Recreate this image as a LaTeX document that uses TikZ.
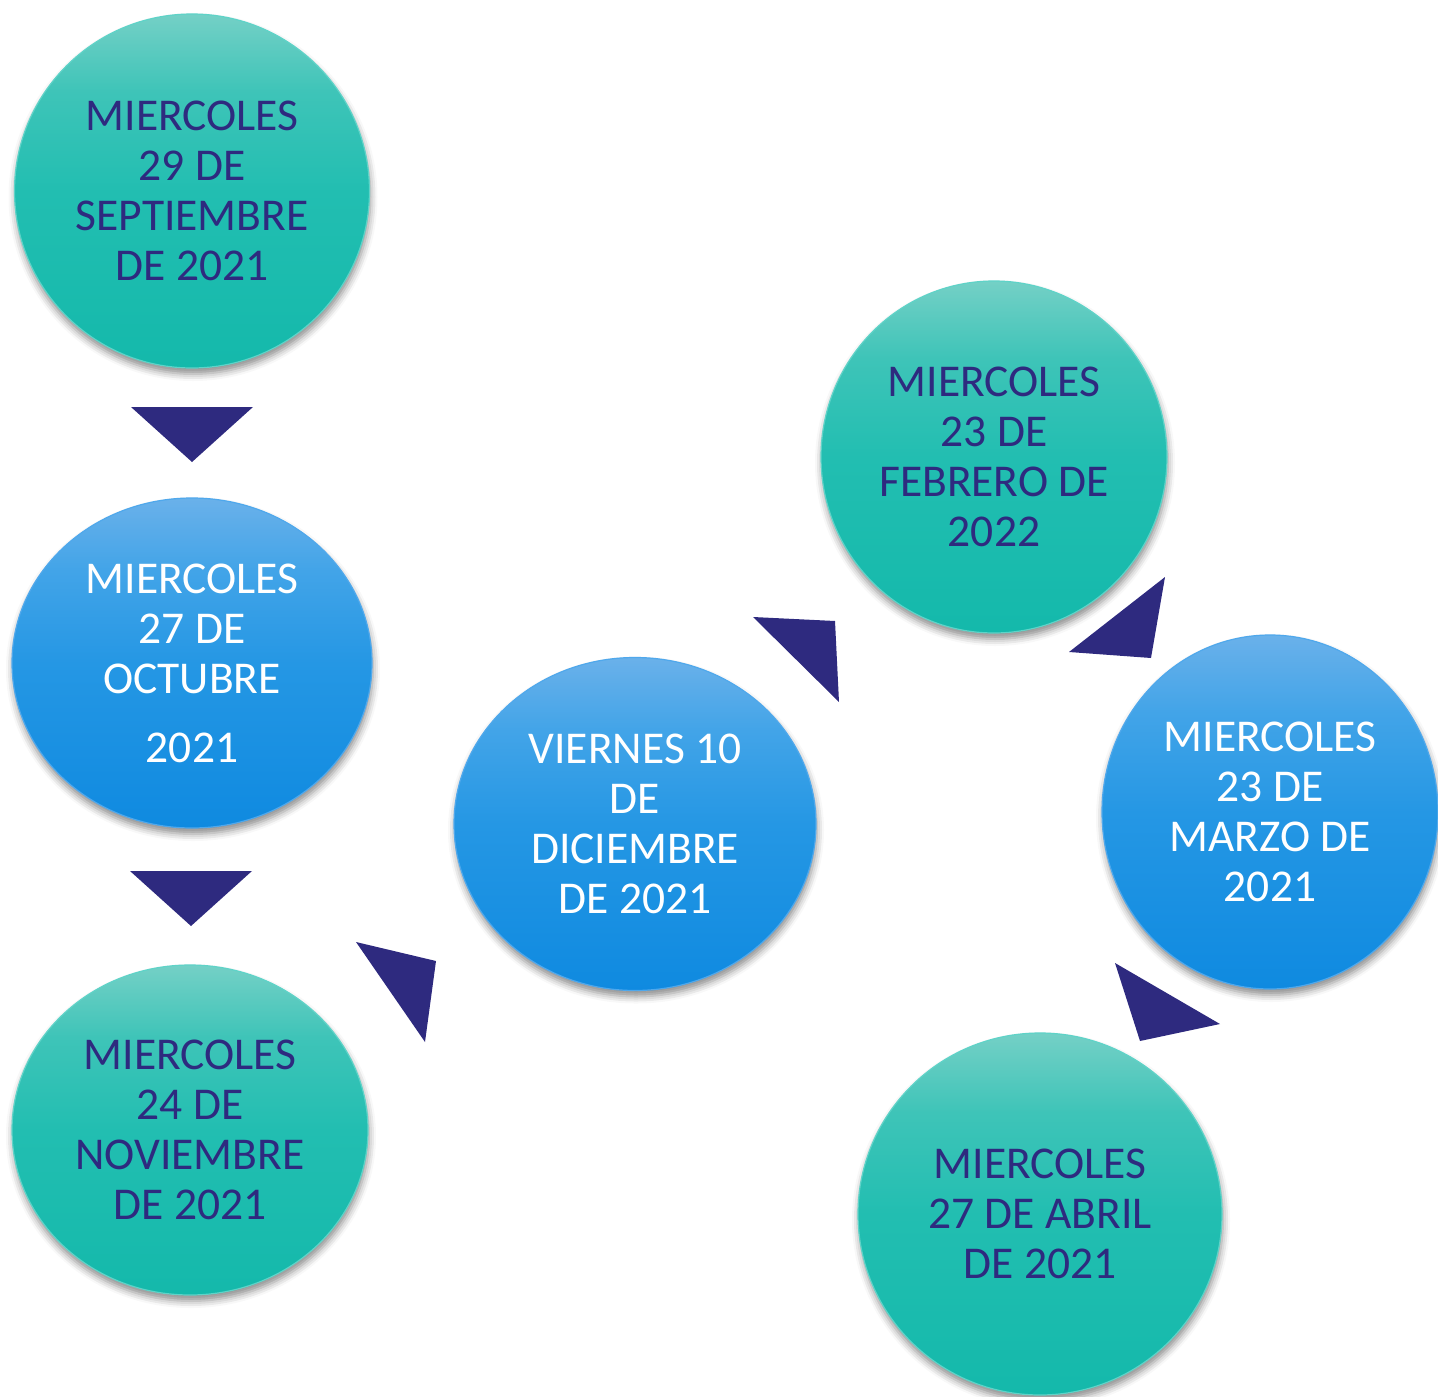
\documentclass[tikz,border=0pt]{standalone}
\usepackage{fontspec}
\setmainfont{Carlito}
\usetikzlibrary{shapes.geometric,shadows.blur}
\definecolor{navy}{HTML}{2E2A7F}
\definecolor{tealtop}{HTML}{74D0C6}
\definecolor{tealup}{HTML}{3EC4B8}
\definecolor{tealmid}{HTML}{22BEB1}
\definecolor{tealbot}{HTML}{14B9AB}
\definecolor{tealrim}{HTML}{5FD3C8}
\definecolor{bluetop}{HTML}{6AB1EA}
\definecolor{blueup}{HTML}{42A4E8}
\definecolor{bluemid}{HTML}{2597E4}
\definecolor{bluebot}{HTML}{0F8AE0}
\definecolor{bluerim}{HTML}{4FA8EC}
\pgfdeclareverticalshading{tealshade}{100bp}{color(0bp)=(tealbot); color(25bp)=(tealbot); color(50bp)=(tealmid); color(64bp)=(tealup); color(75bp)=(tealtop); color(100bp)=(tealtop)}
\pgfdeclareverticalshading{blueshade}{100bp}{color(0bp)=(bluebot); color(25bp)=(bluebot); color(50bp)=(bluemid); color(64bp)=(blueup); color(75bp)=(bluetop); color(100bp)=(bluetop)}
\tikzset{
  disc/.style={ellipse, inner sep=0pt, align=center,
    font=\fontsize{45.5}{50}\selectfont,
    blur shadow={shadow xshift=1pt, shadow yshift=-6pt, shadow blur radius=7pt, shadow opacity=45}},
  tealdisc/.style={disc, draw=tealrim, line width=1.2pt, text=navy, shading=tealshade},
  bluedisc/.style={disc, draw=bluerim, line width=1.2pt, text=white, shading=blueshade},
  tri/.style={fill=navy, draw=none}
}
\begin{document}
\begin{tikzpicture}[x=1pt,y=-1pt]
\useasboundingbox (0,0) rectangle (1438,1397);
% discs
\node[tealdisc, minimum width=355pt, minimum height=354pt] (sep) at (192,191)
  {MIERCOLES\\29 DE\\SEPTIEMBRE\\DE 2021};
\node[bluedisc, minimum width=360pt, minimum height=330pt] (oct) at (192,663)
  {MIERCOLES\\27 DE\\OCTUBRE\\[19pt]2021};
\node[tealdisc, minimum width=356pt, minimum height=330pt] (nov) at (190,1130)
  {MIERCOLES\\24 DE\\NOVIEMBRE\\DE 2021};
\node[bluedisc, minimum width=362pt, minimum height=333pt] (dic) at (635,824)
  {VIERNES 10\\DE\\DICIEMBRE\\DE 2021};
\node[tealdisc, minimum width=346pt, minimum height=352pt] (feb) at (994,457)
  {MIERCOLES\\23 DE\\FEBRERO DE\\2022};
\node[bluedisc, minimum width=336pt, minimum height=354pt] (mar) at (1270,812)
  {MIERCOLES\\23 DE\\MARZO DE\\2021};
\node[tealdisc, minimum width=364pt, minimum height=362pt] (abr) at (1040,1214)
  {MIERCOLES\\27 DE ABRIL\\DE 2021};
% triangles
\fill[tri] (131,407) -- (253,407) -- (192,462) -- cycle;
\fill[tri] (130,871) -- (252,871) -- (191,926) -- cycle;
\fill[tri] (356,942) -- (436,961) -- (425,1042) -- cycle;
\fill[tri] (753,617) -- (835,621) -- (839,702) -- cycle;
\fill[tri] (1165,577) -- (1151,658) -- (1069,652) -- cycle;
\fill[tri] (1115,963) -- (1220,1024) -- (1140,1041) -- cycle;
\end{tikzpicture}
\end{document}
